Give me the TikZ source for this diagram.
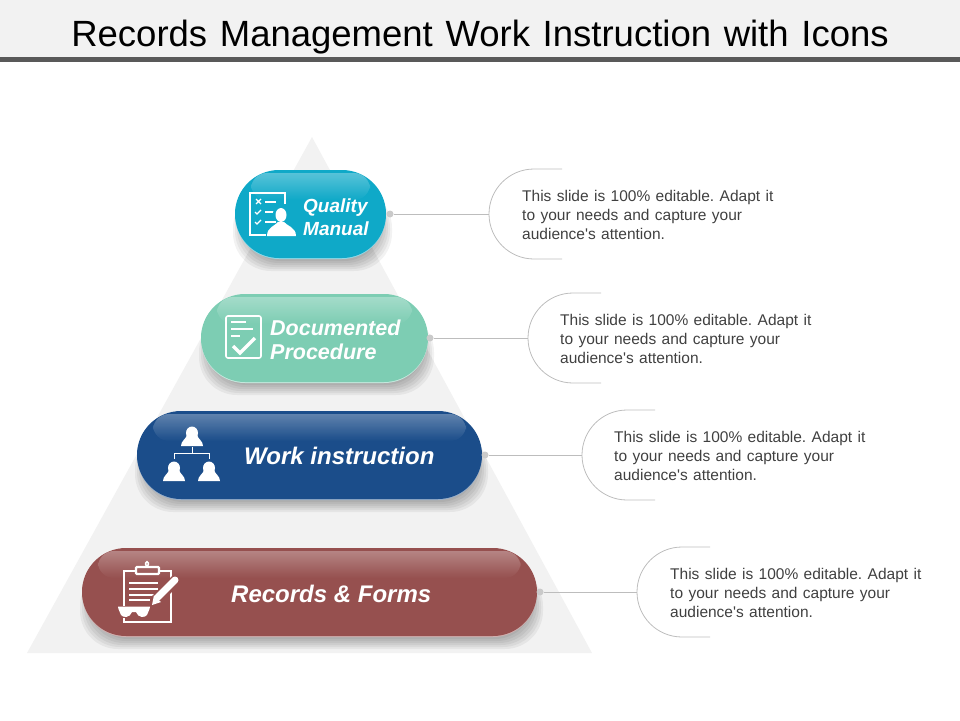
\documentclass[tikz,border=0pt]{standalone}
\usepackage{fontspec}
\setmainfont{Liberation Sans}
\newfontfamily\blurbfont{Liberation Sans}[WordSpace=1.23]
\newfontfamily\titlefont{Liberation Sans}[WordSpace=1.25]
\frenchspacing
\usetikzlibrary{shapes.misc,fadings}
\definecolor{quality}{HTML}{0FA9C8}
\definecolor{documented}{HTML}{7DCDB3}
\definecolor{work}{HTML}{1B4D8A}
\definecolor{records}{HTML}{96504F}
\definecolor{pyramid}{HTML}{F2F2F2}
\definecolor{calloutline}{HTML}{BDBDBD}
\definecolor{bodytext}{HTML}{404040}
\tikzset{
  pill/.style={rounded rectangle,inner sep=0pt,minimum height=88pt},
  dotmark/.style={circle,fill=calloutline!80!white,inner sep=0pt,minimum size=7pt},
  blurb/.style={anchor=west,align=left,text=bodytext,inner sep=0pt,
    font=\blurbfont\fontsize{15.5}{19}\selectfont},
  pilltext/.style={text=white,align=left,inner sep=0pt,anchor=west},
  icon/.style={white,line width=1.6pt},
}
\begin{document}
\begin{tikzpicture}[x=1pt,y=-1pt]
\useasboundingbox (0,0) rectangle (960,720);
\fill[pyramid] (0,0) rectangle (960,57);
\fill[black!65] (0,57) rectangle (960,62);
\node[inner sep=0pt,font=\titlefont\fontsize{36.5}{40}\selectfont] (title) at (480,37) {Records Management Work Instruction with Icons};
\fill[pyramid] (312,137) -- (592,653) -- (27,653) -- cycle;

\foreach \name/\xa/\ya/\xb/\yb/\col in {qm/235/170/386/258/quality,dp/201/294/428/382/documented,wi/137/411/482/499/work,rf/82/548/537/636/records}{
  \foreach \g in {0,2,...,10}
    \fill[black,opacity=.05,rounded corners=38pt] (\xa+8-\g,\ya+20) rectangle (\xb-4+\g,\yb+3+\g);
  \node[pill,fill=\col!45!white,minimum width=\xb-\xa] (\name rim) at ({(\xa+\xb)/2},{(\ya+\yb)/2+1}) {};
  \node[pill,fill=\col,minimum width=\xb-\xa] (\name) at ({(\xa+\xb)/2},{(\ya+\yb)/2}) {};
  \fill[white,opacity=.3,path fading=south,rounded corners=16pt] (\xa+16,\ya+3) rectangle (\xb-16,\ya+30);
}

\foreach \name/\px/\py/\lx/\tx in {qm/390/214/489/522,dp/430/338/528/560,wi/485/455/582/614,rf/540/592/637/670}{
  \node[dotmark] (\name dot) at (\px,\py) {};
  \coordinate (\name hook) at (\lx,\py);
  \draw[calloutline,line width=.8pt] (\name dot) -- (\name hook);
  \draw[calloutline,line width=.8pt] (\lx+73,\py-45) -- (\lx+45,\py-45) arc[start angle=270,end angle=90,radius=45] -- (\lx+73,\py+45);
  \node[blurb] (\name blurb) at (\tx,\py+1) {This slide is 100\% editable. Adapt it\\to your needs and capture your\\audience's attention.};
}

\node[pilltext,font=\fontsize{19}{23}\selectfont\bfseries\itshape] (qmtext) at (303,217.5) {Quality\\Manual};
\node[pilltext,font=\fontsize{21.5}{24.5}\selectfont\bfseries\itshape] (dptext) at (270,340) {Documented\\Procedure};
\node[pilltext,font=\fontsize{24}{28}\selectfont\bfseries\itshape] (witext) at (244,456) {Work instruction};
\node[pilltext,font=\fontsize{24}{28}\selectfont\bfseries\itshape] (rftext) at (231,594) {Records \& Forms};

% quality manual icon
\draw[icon,line width=2pt] (285,204) -- (285,193) -- (250,193) -- (250,235) -- (266,235);
\foreach \y in {202,212,222}
  \draw[icon] (265,\y) -- (276,\y);
\draw[icon,line width=1.2pt] (256,199) -- (261,204) (261,199) -- (256,204);
\foreach \y in {212,222}
  \draw[icon,line width=1.2pt] (255,\y) -- (257,\y+2) -- (261,\y-2);
\fill[quality] (281,213) circle (8);
\fill[white] (281,215) ellipse (5.5 and 7);
\fill[white] (267,236) .. controls (267,227) and (275,226) .. (278,222) -- (284,222) .. controls (287,226) and (296,227) .. (296,236) -- cycle;

% documented procedure icon
\draw[icon,rounded corners=2pt] (226,316) rectangle (261,358);
\foreach \ya/\yb in {322/246,329/253,336/240}
  \draw[icon] (231,\ya) -- (\yb,\ya);
\draw[white,line width=3.5pt] (233,346) -- (240,353) -- (255,338);

% work instruction icon
\foreach \px/\py in {192/433,174/468,209/468}{
  \fill[white] (\px,\py) ellipse (6 and 6.5);
  \fill[white] (\px-11,\py+13) .. controls (\px-11,\py+8) and (\px-6,\py+6) .. (\px-5,\py+2) -- (\px+5,\py+2) .. controls (\px+6,\py+6) and (\px+11,\py+8) .. (\px+11,\py+13) -- cycle;
}
\draw[white,line width=1pt] (192,447) -- (192,453) (174,459) -- (174,453) -- (209,453) -- (209,459);

% records and forms icon
\draw[icon,line width=2.4pt] (136,571) -- (124,571) -- (124,622) -- (171,622) -- (171,571) -- (159,571);
\draw[icon,line width=2.4pt,rounded corners=1pt] (136,574) rectangle (159,567);
\draw[icon] (147,567) .. controls (142,560) and (152,560) .. (147,567);
\foreach \y/\xe in {583/158,589/158,595/155,600/150}
  \draw[icon,line width=2.4pt] (129,\y) -- (\xe,\y);
\draw[records,line width=11pt] (156,600) -- (176,580);
\draw[white,line width=7pt,line cap=round] (158,597) -- (175,580);
\fill[white] (154,595) -- (161,602) -- (152,605) -- cycle;
\fill[records] (116,606) rectangle (152,618);
\fill[white] (118,606.5) -- (150,606.5) -- (149.5,609) -- (147,615) .. controls (145,618) and (138,618) .. (136,612) -- (132,612) .. controls (130,618) and (123,618) .. (121,615) -- (118.5,609) -- cycle;
\end{tikzpicture}
\end{document}
